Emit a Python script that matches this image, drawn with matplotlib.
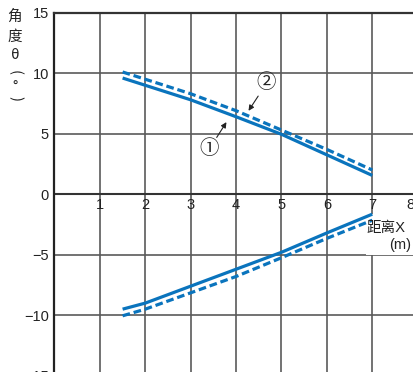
import matplotlib
matplotlib.use("Agg")
import matplotlib.pyplot as plt
from matplotlib.patches import Rectangle

plt.rcParams['font.family'] = ['Liberation Sans', 'Noto Sans CJK SC', 'DejaVu Sans']

# data
x_pts = [1.5, 2, 3, 4, 5, 6, 7]
upper_solid = [9.6, 9.0, 7.8, 6.4, 4.95, 3.25, 1.55]
upper_dashed = [10.1, 9.5, 8.3, 6.9, 5.3, 3.7, 2.0]
lower_solid = [-9.5, -9.0, -7.6, -6.2, -4.8, -3.2, -1.65]
lower_dashed = [-10.05, -9.5, -8.15, -6.8, -5.25, -3.65, -2.15]
x_ticks = [1, 2, 3, 4, 5, 6, 7, 8]
y_ticks = [15, 10, 5, 0, -5, -10, -15]
y_tick_labels = ['15', '10', '5', '0', '\u22125', '\u221210', '\u221215']

W, H = 414, 372
fig = plt.figure(figsize=(W / 100, H / 100), dpi=100)
left = 54.5 / W
width = 8 * 45.4 / W
top_px = 12.7
bot_px = 375.7
ax = fig.add_axes([left, (H - bot_px) / H, width, (bot_px - top_px) / H])
ax.set_xlim(0, 8)
ax.set_ylim(-15, 15)

blue = '#0a74bd'
grid_c = '#5a5a5a'
for xv in x_ticks:
    ax.axvline(xv, color=grid_c, lw=1.2, zorder=1)
for yv in y_ticks:
    ax.axhline(yv, color=grid_c, lw=1.2, zorder=1)
ax.axhline(0, color='#333333', lw=1.5, zorder=1)

for s in ['right', 'bottom']:
    ax.spines[s].set_visible(False)
ax.spines['left'].set_linewidth(1.6)
ax.spines['left'].set_color('#222222')
ax.spines['top'].set_linewidth(1.6)
ax.spines['top'].set_color('#333333')

ax.set_xticks([])
ax.set_yticks(y_ticks)
ax.set_yticklabels(y_tick_labels, fontsize=10.5, color='#222222')
ax.tick_params(axis='y', length=0, pad=4)

for xv in x_ticks:
    xp = xv if xv < 8 else 7.85
    ax.text(xp, -0.3, str(xv), ha='center', va='top', fontsize=10.5, color='#222222', zorder=3)

# x axis label box (under the curves, over the grid)
box = Rectangle((366.5 / W, 1 - 255 / H), (W - 366.5) / W + 0.02, 41 / H,
                transform=fig.transFigure, facecolor='white', edgecolor='none',
                zorder=3, clip_on=False)
ax.add_patch(box)

lw = 2.3
ax.plot(x_pts, upper_solid, color=blue, lw=lw, zorder=4, solid_capstyle='butt')
ax.plot(x_pts, upper_dashed, color=blue, lw=lw, zorder=4, dashes=(2.4, 1.2))
ax.plot(x_pts, lower_solid, color=blue, lw=lw, zorder=4, solid_capstyle='butt')
ax.plot(x_pts, lower_dashed, color=blue, lw=lw, zorder=4, dashes=(2.4, 1.2))

# annotations
ax.annotate('', xy=(3.82, 6.15), xytext=(3.54, 4.5),
            arrowprops=dict(arrowstyle='-|>', color='#222222', lw=0.8, mutation_scale=8), zorder=5)
ax.annotate('', xy=(4.24, 6.7), xytext=(4.52, 8.3),
            arrowprops=dict(arrowstyle='-|>', color='#222222', lw=0.8, mutation_scale=8), zorder=5)
ax.text(3.41, 3.75, '\u2460', ha='center', va='center', fontsize=14,
        family=['Noto Sans CJK SC', 'DejaVu Sans'], color='#222222', zorder=5)
ax.text(4.66, 9.2, '\u2461', ha='center', va='center', fontsize=14,
        family=['Noto Sans CJK SC', 'DejaVu Sans'], color='#222222', zorder=5)

fig.text(367 / W, 1 - 228 / H, '距离X', ha='left', va='center', fontsize=10.5,
         color='#222222', zorder=11)
fig.text(411 / W, 1 - 245 / H, '(m)', ha='right', va='center', fontsize=10.5,
         color='#222222', zorder=11)

# y axis label (vertical)
ylab = [('角', 17, 0), ('度', 37, 0), ('θ', 55, 0), ('(', 73, -90), ('°', 88, 0), (')', 99, -90)]
for ch, yp, rot in ylab:
    fig.text(15 / W, 1 - yp / H, ch, ha='center', va='center', fontsize=10.5,
             color='#222222', rotation=rot, rotation_mode='anchor',
             family=['Noto Sans CJK SC', 'DejaVu Sans'])

fig.savefig('out.png', dpi=100)
